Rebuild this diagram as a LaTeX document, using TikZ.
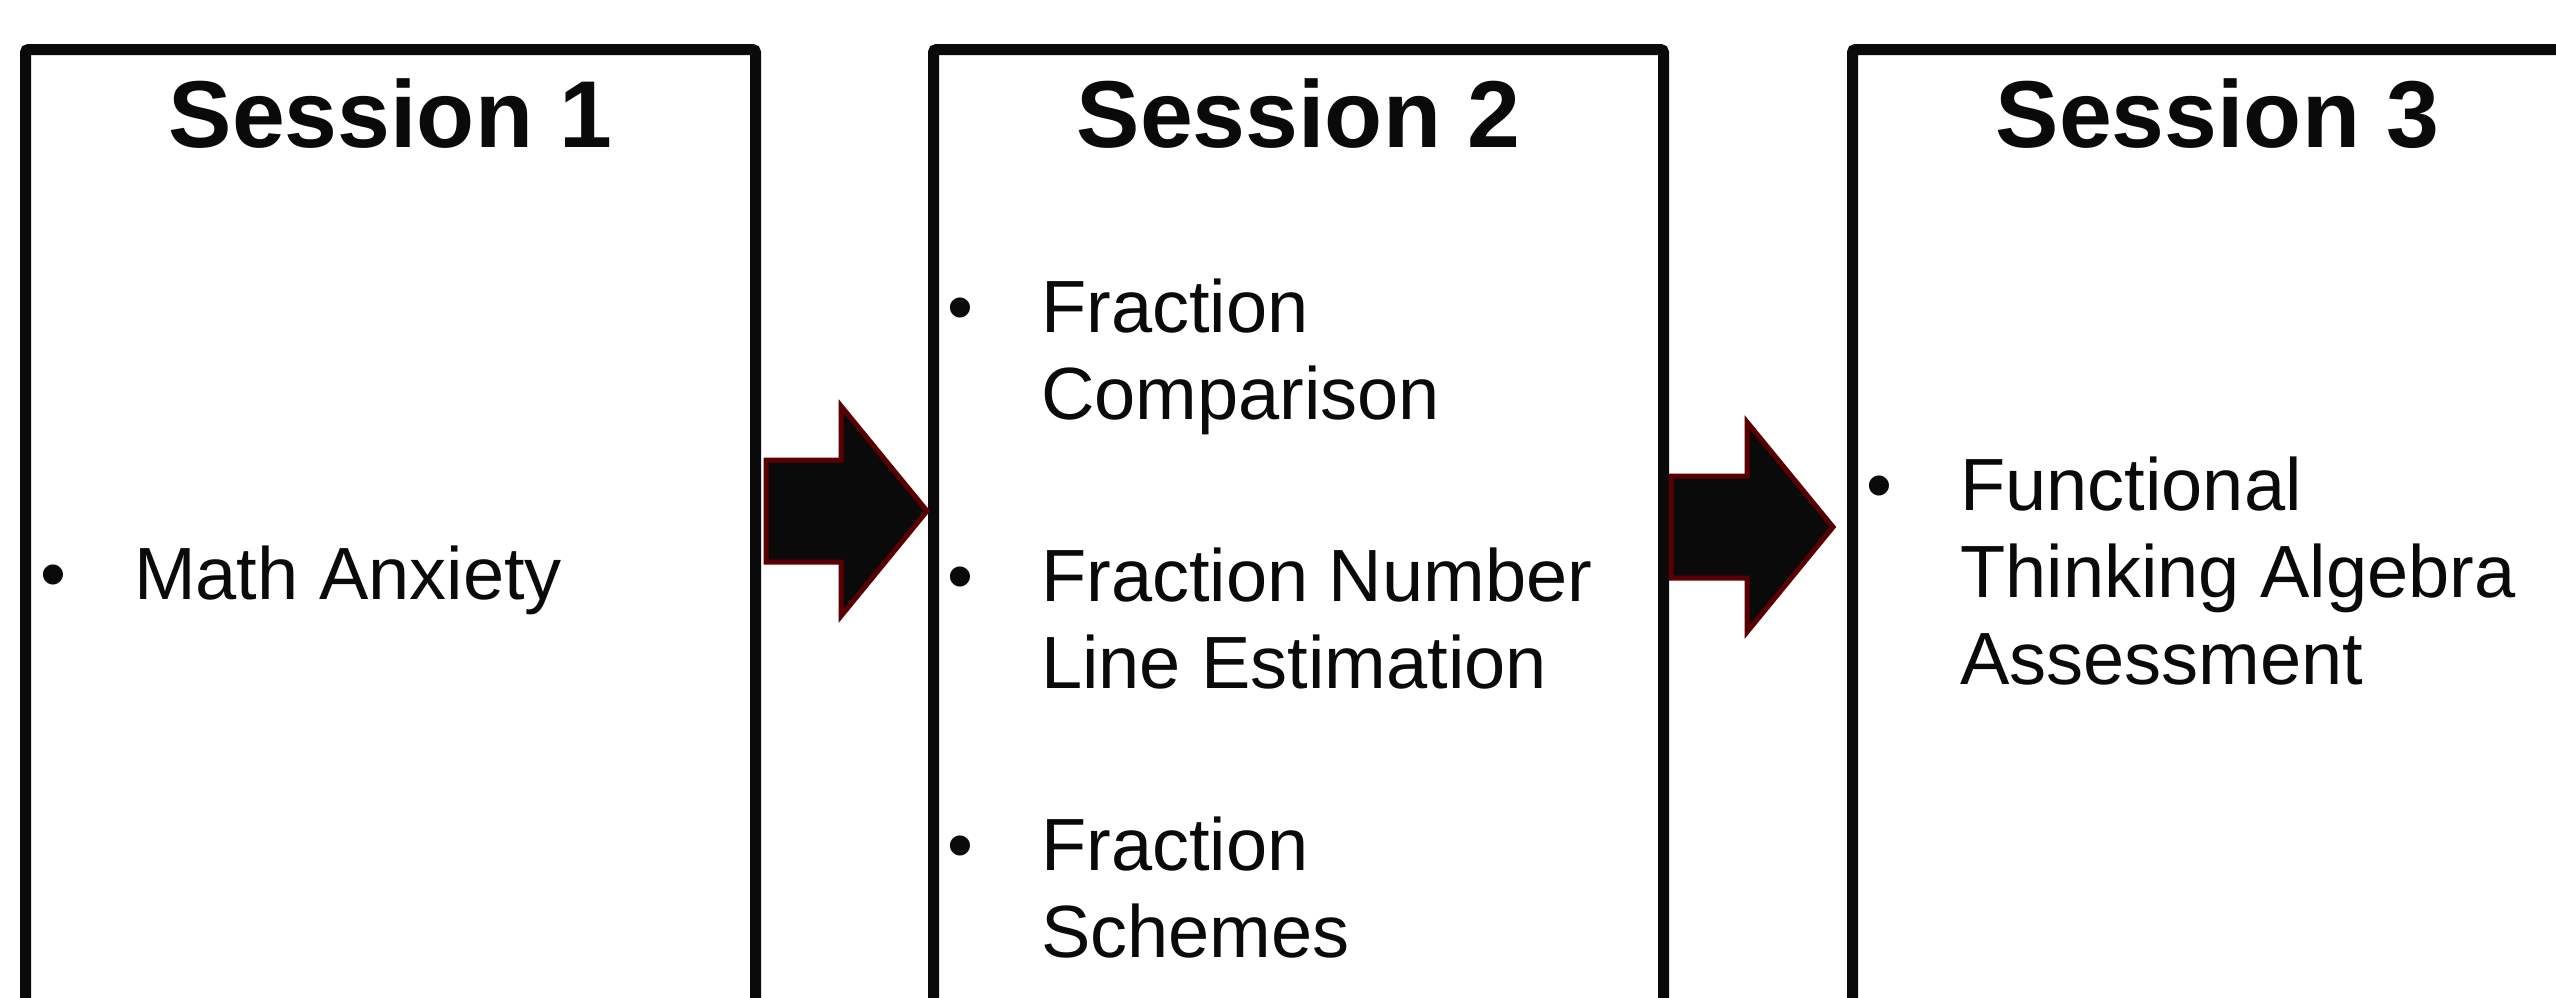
\documentclass[tikz,border=0pt]{standalone}
\usepackage{fontspec}
\setmainfont{Liberation Sans}
\usetikzlibrary{calc}
\definecolor{ink}{HTML}{0A0A0A}
\definecolor{arrowedge}{HTML}{5A0000}
% Block arrow from coordinate #1 (tail, centre line) to coordinate #2 (tip)
\newcommand\blockarrow[2]{%
  \draw[flowarrow] let \p1=(#1), \p2=(#2), \n1={\x2-86pt} in
    (\x1,{\y1+51pt}) -- (\n1,{\y1+51pt}) -- (\n1,{\y1+105pt}) -- (\p2)
    -- (\n1,{\y1-105pt}) -- (\n1,{\y1-51pt}) -- (\x1,{\y1-51pt}) -- cycle;}
\begin{document}
\begin{tikzpicture}[x=1pt,y=-1pt,
  sessionbox/.style={draw=ink, line width=11pt, rounded corners=3pt,
    minimum width=730pt, minimum height=1200pt, anchor=north west, inner sep=0pt},
  heading/.style={font=\fontsize{95}{110}\selectfont\bfseries, text=ink,
    anchor=base, inner sep=0pt},
  % multi-line items: the base anchor sits on the last line
  itemtext/.style={font=\fontsize{74}{87}\selectfont, text=ink,
    anchor=base west, inner sep=0pt, align=left},
  bulletmark/.style={font=\fontsize{74}{87}\selectfont, text=ink,
    anchor=base, inner sep=0pt},
  flowarrow/.style={draw=arrowedge, fill=ink, line width=5pt, line join=miter}]
\useasboundingbox (0,0) rectangle (2556,997);
\clip (0,0) rectangle (2556,997);
\fill[white] (0,0) rectangle (2556,997);

% the three session boxes (open towards the bottom edge)
\node[sessionbox] (s1) at (20,44) {};
\node[sessionbox] (s2) at (928,44) {};
\node[sessionbox] (s3) at (1847,44) {};

% headings
\node[heading] (t1) at ($(s1.north)+(0,103)$) {Session 1};
\node[heading] (t2) at ($(s2.north)+(0,103)$) {Session 2};
\node[heading] (t3) at ($(s3.north)+(0,103)$) {Session 3};

% Session 1 items
\node[bulletmark] (b11) at (53,599) {\textbullet};
\node[itemtext] (i11) at (134,599) {Math Anxiety};

% Session 2 items (bullets on the first line, text anchored on its last line)
\node[bulletmark] (b21) at (960,332) {\textbullet};
\node[itemtext] (i21) at (1041,419) {Fraction\\Comparison};
\node[bulletmark] (b22) at (960,601) {\textbullet};
\node[itemtext] (i22) at (1041,688) {Fraction Number\\Line Estimation};
\node[bulletmark] (b23) at (960,870) {\textbullet};
\node[itemtext] (i23) at (1041,957) {Fraction\\Schemes};

% Session 3 items
\node[bulletmark] (b31) at (1879,510) {\textbullet};
\node[itemtext] (i31) at (1960,684) {Functional\\Thinking Algebra\\Assessment};

% arrows between sessions
\coordinate (a1s) at ($(s1.east |- 0,511)+(5,0)$);
\coordinate (a1e) at (927,511);
\coordinate (a2s) at ($(s2.east |- 0,527)+(2,0)$);
\coordinate (a2e) at (1833,527);
\blockarrow{a1s}{a1e}
\blockarrow{a2s}{a2e}
\end{tikzpicture}
\end{document}
